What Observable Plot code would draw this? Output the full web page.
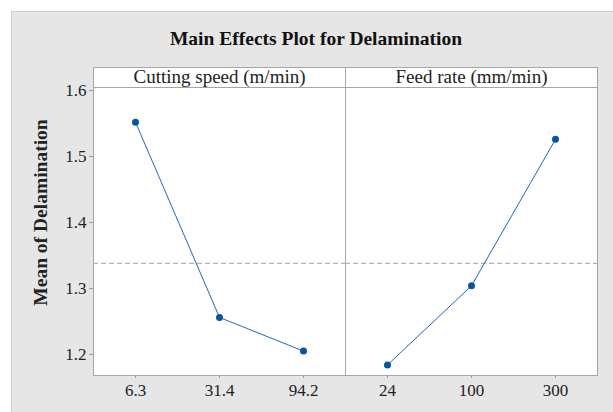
<!DOCTYPE html>
<html>
<head>
<meta charset="utf-8">
<script src="https://cdn.jsdelivr.net/npm/d3@7"></script>
<script src="https://cdn.jsdelivr.net/npm/@observablehq/plot@0.6"></script>
<style>
  html, body { margin: 0; padding: 0; background: #ffffff; }
  #wrap { position: relative; width: 613px; height: 412px; overflow: hidden; font-family: "Liberation Serif", "Times New Roman", serif; }
  #bg { position: absolute; left: 11px; top: 11px; width: 620px; height: 420px; background: #e6e6e6; border: 1px solid #cdcdcd; }
  #title { position: absolute; left: 0; width: 632px; top: 28px; text-align: center; font-weight: bold; font-size: 19.5px; color: #111; }
  #chart { position: absolute; left: 0; top: 0; }
  #chart svg g[aria-label="y-axis label"] text { font-weight: bold; }
</style>
</head>
<body>
<div id="wrap">
  <div id="bg"></div>
  <div id="title">Main Effects Plot for Delamination</div>
  <div id="chart"></div>
</div>
<script>
const factors = ["Cutting speed (m/min)", "Feed rate (mm/min)"];
const cuttingLevels = ["6.3", "31.4", "94.2"];
const cuttingMeans = [1.552, 1.256, 1.205];
const feedLevels = ["24", "100", "300"];
const feedMeans = [1.184, 1.304, 1.526];
const yTicks = [1.2, 1.3, 1.4, 1.5, 1.6];

const rows = [
  ...cuttingLevels.map((l, i) => ({factor: factors[0], idx: i, level: l, mean: cuttingMeans[i]})),
  ...feedLevels.map((l, i) => ({factor: factors[1], idx: i, level: l, mean: feedMeans[i]}))
];
const grandMean = d3.mean(cuttingMeans.concat(feedMeans));

const H = 412, mTop = 87, mBottom = 37;
const frameH = H - mTop - mBottom;

const chart = Plot.plot({
  width: 613,
  height: H,
  marginLeft: 93,
  marginRight: 16,
  marginTop: mTop,
  marginBottom: mBottom,
  style: {background: "transparent", fontFamily: "Liberation Serif, serif", fontSize: "17px", color: "#222"},
  fx: {domain: factors, padding: 0, label: null},
  x: {type: "point", domain: [0, 1, 2], padding: 0.5, label: null},
  y: {domain: [1.168, 1.6046], label: "Mean of Delamination"},
  marks: [
    Plot.frame({fill: "white", stroke: "#a6a6a6"}),
    Plot.frame({fill: "white", stroke: "#a6a6a6", insetTop: -20, insetBottom: frameH}),
    Plot.ruleY([grandMean], {stroke: "#b4b4b4", strokeWidth: 1.3, strokeDasharray: "5,3"}),
    Plot.line(rows, {fx: "factor", x: "idx", y: "mean", stroke: "#1f68c4", strokeWidth: 1}),
    Plot.dot(rows, {fx: "factor", x: "idx", y: "mean", r: 3.5, fill: "#0a52a3", stroke: "none"}),
    Plot.axisY({ticks: yTicks, tickSize: 4, tickPadding: 3, fontSize: 17, stroke: "#999",
      tickFormat: d3.format(".1f"),
      label: "Mean of Delamination", labelArrow: "none", labelAnchor: "center", labelOffset: 62}),
    Plot.axisX({ticks: [0, 1, 2], tickSize: 3, tickFormat: () => "", stroke: "#999", label: null}),
    Plot.text(rows, {fx: "factor", x: "idx", text: "level", frameAnchor: "bottom", lineAnchor: "top", dy: 8, fontSize: 17, fill: "#222"}),
    Plot.axisFx({anchor: "top", tickSize: 0, tickPadding: 5, label: null, fontSize: 19})
  ]
});
const yl = chart.querySelector('g[aria-label="y-axis label"]');
if (yl) {
  yl.setAttribute("font-size", "19.5");
  yl.setAttribute("font-weight", "bold");
  const t = yl.getAttribute("transform") || "";
  yl.setAttribute("transform", "translate(2,-19) " + t);
}
document.getElementById("chart").appendChild(chart);
</script>
</body>
</html>
